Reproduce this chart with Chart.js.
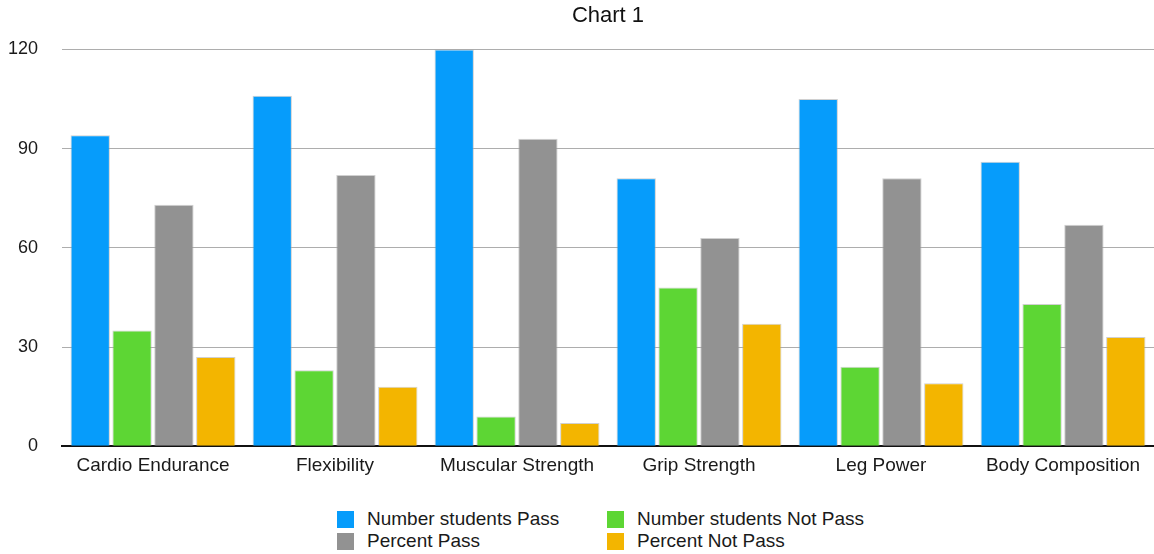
<!DOCTYPE html>
<html>
<head>
<meta charset="utf-8">
<script src="https://cdn.jsdelivr.net/npm/chart.js@4/dist/chart.umd.min.js"></script>
<style>
  html, body { margin: 0; padding: 0; background: #fff; }
  body { width: 1154px; height: 554px; position: relative; overflow: hidden;
         font-family: "Liberation Sans", Arial, Helvetica, sans-serif; }
  #wrap { position: absolute; left: 0; top: 0; width: 1154px; height: 489px; }
  #legend { position: absolute; left: 337px; top: 509px;
            display: grid; grid-template-columns: 270px 260px; row-gap: 2px; }
  .item { display: flex; align-items: center; font-size: 19px; color: #1a1a1a; height: 20px; }
  .swatch { width: 17px; height: 17px; margin-right: 13px; box-sizing: border-box; }
</style>
</head>
<body>
<div id="wrap"><canvas id="chart"></canvas></div>
<div id="legend"></div>
<script>
// Fitness test results per component
const categories = ["Cardio Endurance", "Flexibility", "Muscular Strength", "Grip Strength", "Leg Power", "Body Composition"];
const numberPass    = [94, 106, 120, 81, 105, 86];
const numberNotPass = [35, 23, 9, 48, 24, 43];
const percentPass   = [73, 82, 93, 63, 81, 67];
const percentNotPass = [27, 18, 7, 37, 19, 33];
const yTicks = [0, 30, 60, 90, 120];

const seriesNames = ["Number students Pass", "Number students Not Pass", "Percent Pass", "Percent Not Pass"];
const seriesColors = ["#069CFB", "#5DD634", "#929292", "#F3B500"];
const seriesValues = [numberPass, numberNotPass, percentPass, percentNotPass];

const FONT = "'Liberation Sans', Arial, Helvetica, sans-serif";

const datasets = seriesNames.map((name, i) => ({
  label: name,
  data: seriesValues[i],
  backgroundColor: seriesColors[i],
  borderColor: "rgba(170,170,170,0.55)",
  borderWidth: 1,
  categoryPercentage: 0.92,
  barPercentage: 0.94
}));

const chart = new Chart(document.getElementById("chart"), {
  type: "bar",
  data: { labels: categories, datasets },
  options: {
    responsive: true,
    maintainAspectRatio: false,
    animation: false,
    layout: { padding: { left: 8, right: 0, top: 0, bottom: 4 } },
    plugins: {
      legend: { display: false },
      tooltip: { enabled: false },
      title: {
        display: true,
        text: "Chart 1",
        fullSize: false,
        color: "#111",
        font: { family: FONT, size: 22, weight: "normal" },
        padding: { top: 3, bottom: 20 }
      }
    },
    scales: {
      x: {
        grid: { display: false, drawTicks: false },
        border: { display: true, color: "#111", width: 2 },
        ticks: { color: "#1a1a1a", font: { family: FONT, size: 19 }, padding: 8, maxRotation: 0, autoSkip: false },
        afterFit: (s) => { s.paddingLeft = 0; s.paddingRight = 0; }
      },
      y: {
        min: 0,
        max: 120,
        afterBuildTicks: (axis) => { axis.ticks = yTicks.map(v => ({ value: v })); },
        afterFit: (s) => { s.width = 54; },
        grid: { color: "#adadad", lineWidth: 1, drawTicks: false },
        border: { display: false },
        ticks: { color: "#1a1a1a", font: { family: FONT, size: 18 }, padding: 24 }
      }
    }
  }
});

// Legend laid out as a two-column grid, built from the chart's datasets
const legend = document.getElementById("legend");
chart.data.datasets.forEach(ds => {
  const item = document.createElement("div");
  item.className = "item";
  const sw = document.createElement("span");
  sw.className = "swatch";
  sw.style.background = ds.backgroundColor;
  const tx = document.createElement("span");
  tx.textContent = ds.label;
  item.appendChild(sw);
  item.appendChild(tx);
  legend.appendChild(item);
});
</script>
</body>
</html>
